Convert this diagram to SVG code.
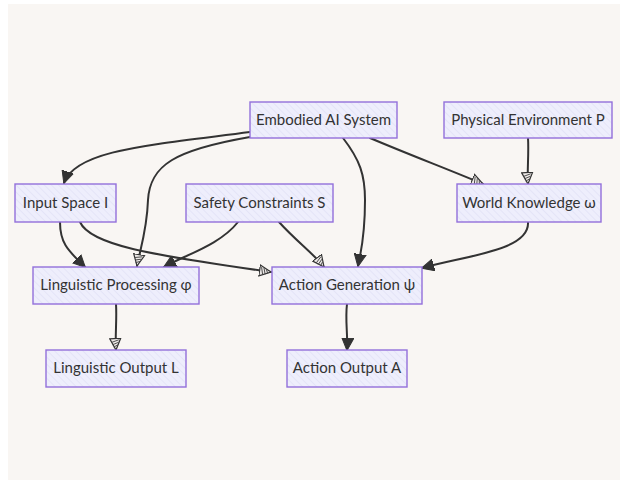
<svg xmlns="http://www.w3.org/2000/svg" width="620" height="480" viewBox="0 0 620 480">
  <style>
    .node rect { fill: url(#hatch); stroke: #9370DB; stroke-width: 1.4; }
    .node text { font-family: Lato, "DejaVu Sans", sans-serif; font-size: 15px; fill: #333; text-anchor: middle; dominant-baseline: central; }
    .edge { fill: none; stroke: #333; stroke-width: 2; stroke-linecap: round; }
    .solid { marker-end: url(#arrowSolid); }
    .hollow { marker-end: url(#arrowHatch); }
  </style>
  <defs>
    <pattern id="hatch" patternUnits="userSpaceOnUse" width="5" height="5" patternTransform="rotate(-45)">
      <rect width="5" height="5" fill="#eeeefc"/>
      <line x1="0" y1="0" x2="0" y2="5" stroke="#dedef4" stroke-width="1.2"/>
    </pattern>
    <marker id="arrowSolid" markerUnits="userSpaceOnUse" viewBox="0 0 13 13" refX="12" refY="6.5" markerWidth="13" markerHeight="13" orient="auto">
      <path d="M0,0.5 L12.5,6.5 L0,12.5 Z" fill="#333" stroke="#333" stroke-width="1"/>
    </marker>
    <marker id="arrowHatch" markerUnits="userSpaceOnUse" viewBox="0 0 13 13" refX="12" refY="6.5" markerWidth="13" markerHeight="13" orient="auto">
      <path d="M0.5,1 L12,6.5 L0.5,12 Z" fill="#eeeae8" stroke="#333" stroke-width="1.2"/>
      <path d="M2,3 L4,10 M4.5,3.5 L6.5,9.5 M7,4.5 L9,8.5" stroke="#444" stroke-width="0.9"/>
    </marker>
  </defs>

  <rect x="0" y="0" width="620" height="480" fill="#ffffff"/>
  <rect x="8" y="4" width="612" height="476" fill="#f9f6f3"/>

  <g id="connectors">
    <path class="edge solid" d="M250,132 C150,145 75,150 64,183"/>
    <path class="edge hollow" d="M250,137 C175,150 150,165 148,200 C147,230 140,250 137,266"/>
    <path class="edge solid" d="M343,138 C360,160 365,175 365,200 C365,240 360,255 358,266"/>
    <path class="edge hollow" d="M370,138 C410,155 450,170 483,184"/>
    <path class="edge hollow" d="M528,138 C529,155 527,170 528,184"/>
    <path class="edge solid" d="M60,222 C60,245 70,252 85,267"/>
    <path class="edge hollow" d="M80,222 C90,245 150,255 271,272"/>
    <path class="edge solid" d="M238,222 C220,245 185,255 164,267"/>
    <path class="edge hollow" d="M279,222 C295,240 315,255 324,267"/>
    <path class="edge solid" d="M528,222 C530,250 470,255 422,268"/>
    <path class="edge hollow" d="M116,304 C117,320 115,335 116,350"/>
    <path class="edge solid" d="M347,304 C345,320 348,335 347,350"/>
  </g>

  <g id="embodied" class="node">
    <rect x="250" y="102" width="147" height="36"/>
    <text x="323.5" y="118.5">Embodied AI System</text>
  </g>
  <g id="physical" class="node">
    <rect x="444" y="102" width="168" height="36"/>
    <text x="528" y="118.5">Physical Environment P</text>
  </g>
  <g id="input" class="node">
    <rect x="15" y="184" width="101" height="38"/>
    <text x="65.5" y="201.5">Input Space I</text>
  </g>
  <g id="safety" class="node">
    <rect x="186" y="184" width="147" height="38"/>
    <text x="259.5" y="201.5">Safety Constraints S</text>
  </g>
  <g id="world" class="node">
    <rect x="457" y="184" width="144" height="38"/>
    <text x="529" y="201.5">World Knowledge ω</text>
  </g>
  <g id="linguistic" class="node">
    <rect x="33" y="267" width="166" height="37"/>
    <text x="116" y="284">Linguistic Processing φ</text>
  </g>
  <g id="action" class="node">
    <rect x="272" y="267" width="150" height="37"/>
    <text x="347" y="284">Action Generation ψ</text>
  </g>
  <g id="lingout" class="node">
    <rect x="46" y="350" width="140" height="37"/>
    <text x="116" y="367">Linguistic Output L</text>
  </g>
  <g id="actout" class="node">
    <rect x="287" y="350" width="120" height="37"/>
    <text x="347" y="367">Action Output A</text>
  </g>
</svg>
